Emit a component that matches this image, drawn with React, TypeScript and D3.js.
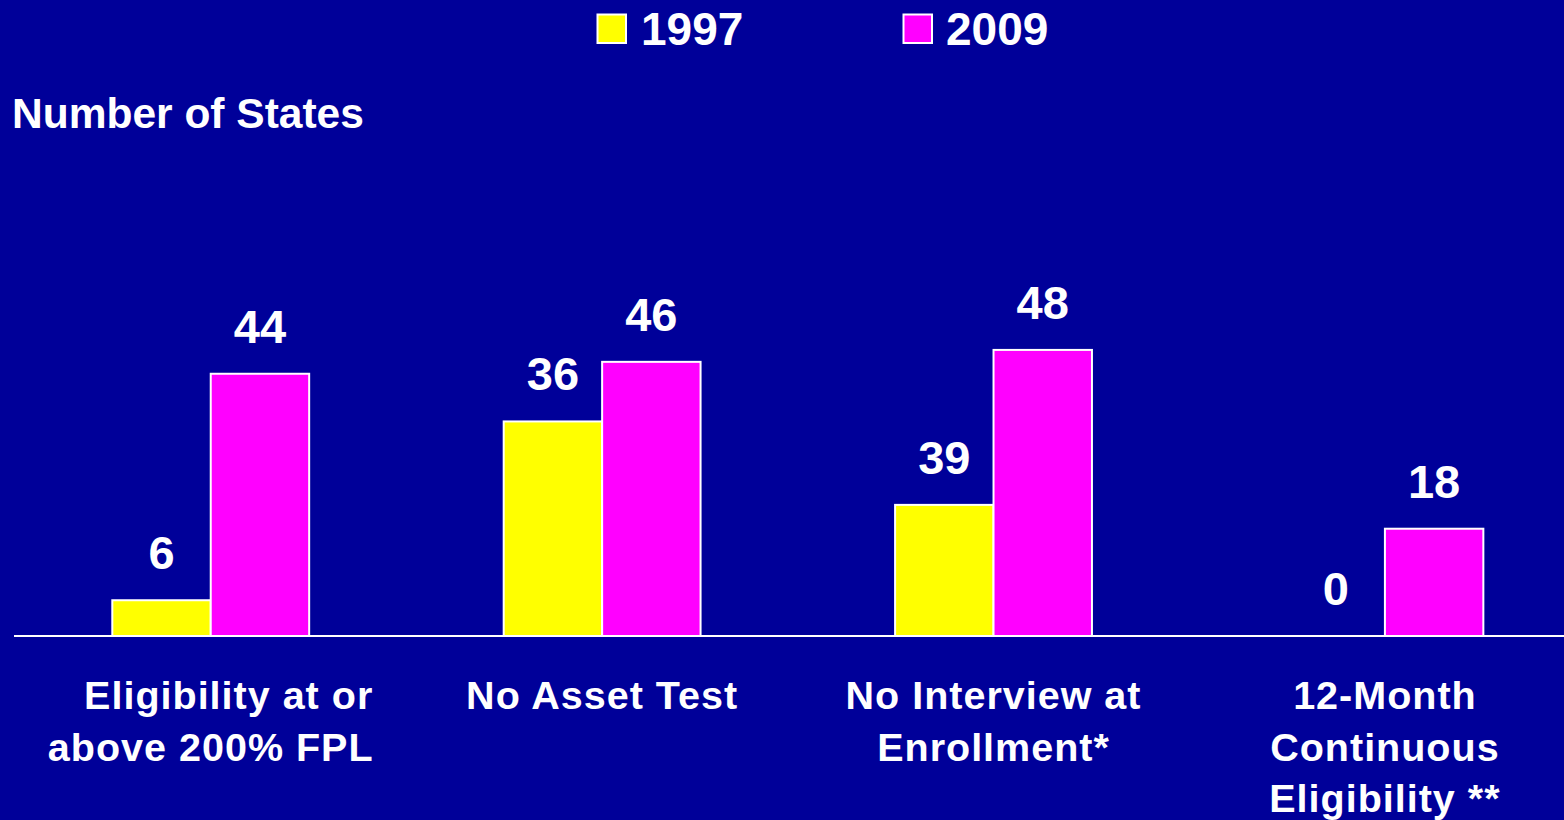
import React, { useEffect } from "react";
import * as d3 from "d3";

const categories: string[][] = [
  ["   Eligibility at or", "above 200% FPL"],
  ["No Asset Test"],
  ["No Interview at", "Enrollment*"],
  ["12-Month", "Continuous", "Eligibility **"],
];
const seriesNames = ["1997", "2009"];
const seriesColors = ["#FFFF00", "#FF00FF"];
// bar heights as drawn in the picture
const values1997 = [6, 36, 22, 0];
const values2009 = [44, 46, 48, 18];
// value labels as printed
const labels1997 = ["6", "36", "39", "0"];
const labels2009 = ["44", "46", "48", "18"];
const yAxisTitle = "Number of States";

const W = 1564;
const H = 820;
const FONT = "'Liberation Sans', Arial, Helvetica, sans-serif";
const BG = "#000099";

export default function App() {
  useEffect(() => {
    document.body.style.margin = "0";
  }, []);

  const groupIds = categories.map((_, i) => String(i));
  const x0 = d3
    .scaleBand<string>()
    .domain(groupIds)
    .range([14.45, 1581.2])
    .paddingInner(0.497)
    .paddingOuter(0.25);
  const x1 = d3
    .scaleBand<string>()
    .domain(seriesNames)
    .range([0, x0.bandwidth()])
    .padding(0);
  const y = d3.scaleLinear().domain([0, 50]).range([636, 338]);

  const series = [
    { name: seriesNames[0], color: seriesColors[0], vals: values1997, labels: labels1997 },
    { name: seriesNames[1], color: seriesColors[1], vals: values2009, labels: labels2009 },
  ];

  return (
    <svg
      width={W}
      height={H}
      style={{ position: "fixed", left: 0, top: 0, display: "block" }}
      fontFamily={FONT}
      fontWeight="bold"
    >
      <rect x={0} y={0} width={W} height={H} fill={BG} />

      {/* legend */}
      <g>
        <rect x={597.5} y={14.5} width={28.5} height={28.5} fill={seriesColors[0]} stroke="#fff" strokeWidth={2} />
        <text x={641} y={45} fill="#fff" fontSize={46}>{seriesNames[0]}</text>
        <rect x={903.5} y={14.5} width={28.5} height={28.5} fill={seriesColors[1]} stroke="#fff" strokeWidth={2} />
        <text x={946} y={45} fill="#fff" fontSize={46}>{seriesNames[1]}</text>
      </g>

      <text x={12} y={128} fill="#fff" fontSize={42.5}>{yAxisTitle}</text>

      {/* bars */}
      {series.map((s) =>
        s.vals.map((v, i) => {
          const bx = (x0(String(i)) ?? 0) + (x1(s.name) ?? 0);
          const bw = x1.bandwidth();
          return (
            <g key={s.name + i}>
              {v > 0 && (
                <rect
                  x={bx}
                  y={y(v)}
                  width={bw}
                  height={y(0) - y(v)}
                  fill={s.color}
                  stroke="#fff"
                  strokeWidth={2}
                />
              )}
              <text
                x={bx + bw / 2}
                y={y(v) - 31}
                fill="#fff"
                fontSize={47}
                textAnchor="middle"
              >
                {s.labels[i]}
              </text>
            </g>
          );
        })
      )}

      {/* baseline */}
      <line x1={14} x2={W} y1={636} y2={636} stroke="#fff" strokeWidth={2} />

      {/* category labels */}
      {categories.map((lines, i) => {
        const cx = (x0(String(i)) ?? 0) + x0.bandwidth() / 2;
        return (
          <text
            key={i}
            fill="#fff"
            fontSize={39.5}
            letterSpacing={1.0}
            textAnchor="middle"
            style={{ whiteSpace: "pre" }}
          >
            {lines.map((ln, j) => (
              <tspan key={j} x={cx} y={709 + j * 51.5}>
                {ln}
              </tspan>
            ))}
          </text>
        );
      })}
    </svg>
  );
}
